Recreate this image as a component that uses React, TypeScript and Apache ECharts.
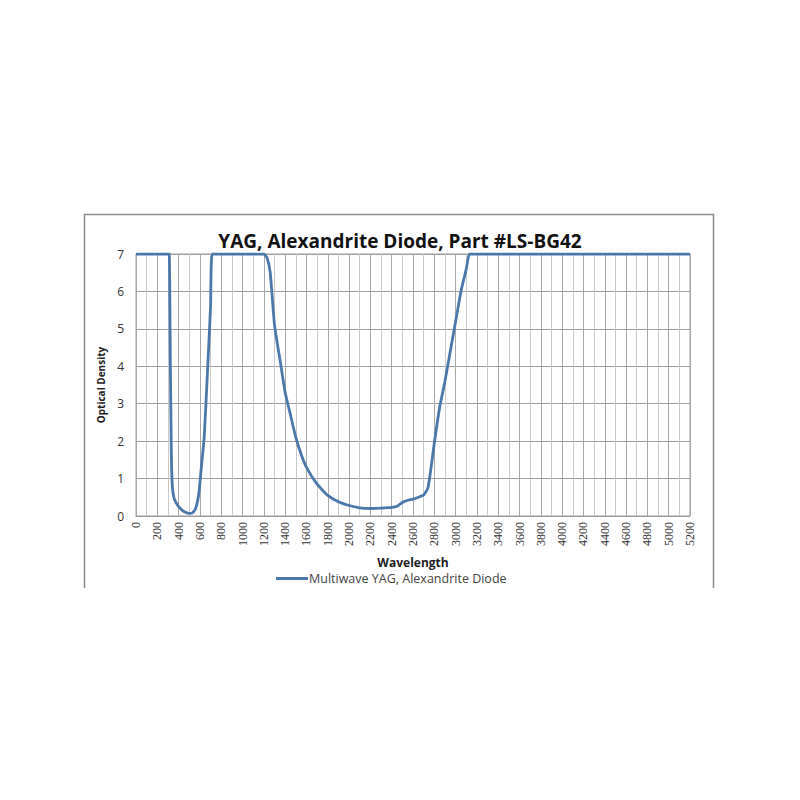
import React, { useEffect, useRef } from "react";
import * as echarts from "echarts";

const titleText = "YAG, Alexandrite Diode, Part #LS-BG42";
const seriesName = "Multiwave YAG, Alexandrite Diode";
const xAxisName = "Wavelength";
const yAxisName = "Optical Density";

// wavelength (nm)
const wavelengths = [
  0, 100, 200, 300, 312, 322, 332, 342, 360, 400, 450, 500, 530, 560, 590, 610, 640, 670, 700, 715,
  800, 1000, 1200, 1230, 1260, 1300, 1350, 1400, 1450, 1500, 1550, 1600, 1700, 1800, 1900, 2000,
  2100, 2200, 2300, 2400, 2450, 2500, 2550, 2600, 2650, 2700, 2740, 2770, 2800, 2850, 2900, 2950,
  3000, 3050, 3100, 3130, 3200, 3600, 4000, 4400, 4800, 5200,
];
// optical density
const densities = [
  7, 7, 7, 7, 7, 4.2, 1.6, 0.75, 0.45, 0.25, 0.12, 0.07, 0.08, 0.2, 0.6, 1.2, 2.1, 3.8, 5.6, 7,
  7, 7, 7, 6.9, 6.5, 5.1, 4.2, 3.3, 2.7, 2.1, 1.65, 1.3, 0.85, 0.55, 0.38, 0.28,
  0.22, 0.2, 0.21, 0.23, 0.26, 0.36, 0.42, 0.45, 0.5, 0.56, 0.75, 1.3, 1.95, 2.9, 3.6, 4.4,
  5.2, 6.0, 6.6, 7, 7, 7, 7, 7, 7, 7,
];

const FONT = "Open Sans";

export default function App() {
  const ref = useRef<HTMLDivElement>(null);
  useEffect(() => {
    if (!ref.current) return;
    const chart = echarts.init(ref.current, null, { renderer: "svg" });
    const data = wavelengths.map((w, i) => [w, densities[i]]);
    chart.setOption({
      animation: false,
      backgroundColor: "#ffffff",
      textStyle: { fontFamily: FONT },
      title: {
        text: titleText,
        left: "center",
        top: 226,
        textStyle: { fontFamily: FONT, fontSize: 19, fontWeight: "bold", color: "#111" },
      },
      graphic: [
        {
          type: "polyline",
          shape: { points: [[84.5, 588], [84.5, 214.5], [713.5, 214.5], [713.5, 588]] },
          style: { stroke: "#8a8a8a", lineWidth: 1.5, fill: "none" },
          silent: true,
        },
      ],
      legend: {
        left: 271,
        top: 567,
        itemWidth: 32,
        itemHeight: 3,
        itemGap: 0,
        icon: "rect",
        textStyle: { fontFamily: FONT, fontSize: 12.5, color: "#444", padding: [0, 0, 0, -4] },
        data: [seriesName],
      },
      grid: { left: 136, top: 254, width: 554, height: 262, show: true, borderColor: "#9a9a9a", borderWidth: 1 },
      xAxis: {
        type: "value",
        min: 0,
        max: 5200,
        interval: 200,
        name: xAxisName,
        nameLocation: "middle",
        nameGap: 40,
        nameTextStyle: { fontFamily: FONT, fontSize: 12, fontWeight: "bold", color: "#222" },
        axisLine: { show: true, lineStyle: { color: "#9a9a9a" } },
        axisTick: { show: false },
        axisLabel: {
          rotate: 90,
          fontSize: 12,
          color: "#333",
          fontFamily: "Liberation Serif",
          margin: 6,
          formatter: (v: number) => String(v),
        },
        splitLine: { show: true, lineStyle: { color: "#a8a8a8", width: 1 } },
        minorTick: { show: false, splitNumber: 2 },
        minorSplitLine: { show: true, lineStyle: { color: "#c9c9c9", width: 1 } },
      },
      yAxis: {
        type: "value",
        min: 0,
        max: 7,
        interval: 1,
        name: yAxisName,
        nameLocation: "middle",
        nameGap: 28,
        nameTextStyle: { fontFamily: FONT, fontSize: 10, fontWeight: "bold", color: "#222" },
        axisLine: { show: false },
        axisTick: { show: false },
        axisLabel: { fontSize: 12, color: "#333", fontFamily: FONT, margin: 12 },
        splitLine: { show: true, lineStyle: { color: "#9f9f9f", width: 1 } },
      },
      series: [
        {
          name: seriesName,
          type: "line",
          data,
          showSymbol: false,
          smooth: 0.15,
          color: "#4a78ab",
          lineStyle: { color: "#4a78ab", width: 2.8 },
        },
      ],
    });
    return () => chart.dispose();
  }, []);
  return (
    <div
      ref={ref}
      style={{ position: "fixed", left: 0, top: 0, width: 800, height: 800, background: "#fff" }}
    />
  );
}
